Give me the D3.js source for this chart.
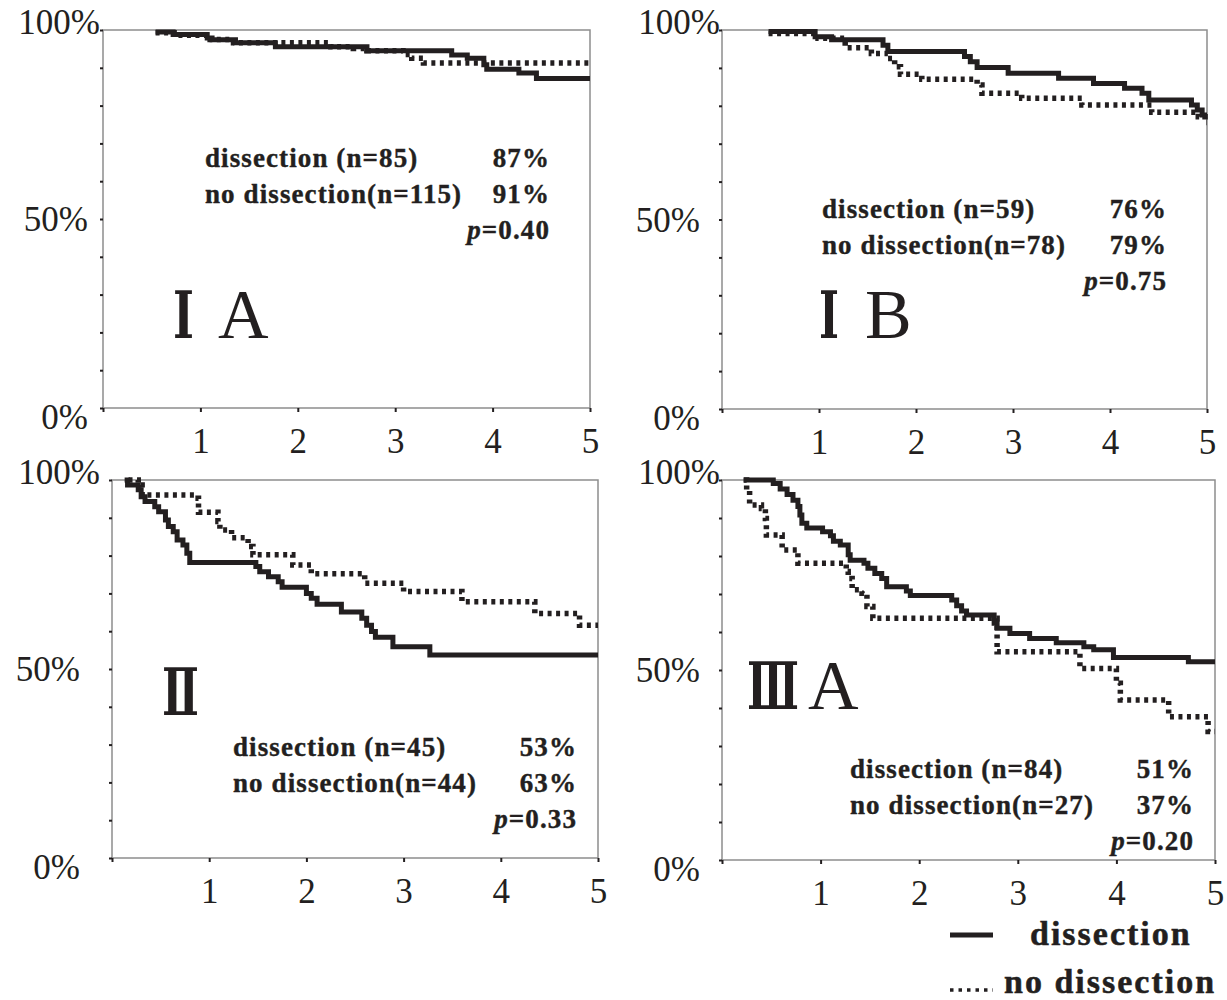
<!DOCTYPE html>
<html>
<head>
<meta charset="utf-8">
<script src="https://cdn.jsdelivr.net/npm/d3@7/dist/d3.min.js"></script>
<style>
  body { margin: 0; background: #fff; }
  text { fill: #231f20; }
</style>
</head>
<body>
<svg width="1227" height="1000"></svg>
<script>
// survival curves, [years, survival %], step after each point
var iaDissection = [[0.54,99.5],[0.72,98.8],[1.07,97.9],[1.12,97.4],[1.36,96.6],[1.77,95.6],[2.71,94.5],[3.58,93.4],[3.74,92.5],[3.91,90.8],[3.94,89.6],[4.27,88.6],[4.45,87.2],[5,87.2]];
var iaNoDissection = [[0.54,99.3],[0.73,98.6],[1.1,97.5],[1.34,96.6],[2.34,95.6],[2.57,95.1],[2.71,94.5],[3.08,93.5],[3.17,92.5],[3.29,91.3],[5,91.3]];

var ibDissection = [[0.48,99.6],[0.96,98.2],[1.13,97.4],[1.66,96],[1.71,94.3],[2.5,93],[2.56,91.6],[2.63,90.1],[2.95,88.6],[3.47,87.3],[3.83,85.9],[4.15,84.6],[4.33,83.3],[4.4,81.5],[4.84,80.2],[4.9,78.9],[4.95,77.6],[5,77.6]];
var ibNoDissection = [[0.48,99.1],[0.99,97.8],[1.27,95.3],[1.54,93.8],[1.71,92.5],[1.78,90.3],[1.84,88.3],[2.06,87],[2.63,85.5],[2.68,83.3],[3.09,82],[3.71,80.2],[4.43,78.3],[4.91,77.1],[4.98,75.6],[5,75.6]];

var iiDissection = [[0.13,100],[0.16,98.7],[0.27,97.4],[0.3,95.6],[0.34,94.3],[0.44,92.9],[0.48,91.6],[0.55,89.4],[0.58,87.7],[0.63,86.3],[0.67,84.1],[0.73,82.8],[0.77,80.6],[0.8,78.2],[1.48,77.1],[1.52,75.7],[1.61,74.4],[1.71,73.1],[1.75,71.6],[2.0,70],[2.05,68.7],[2.11,67.1],[2.36,65.1],[2.57,63.4],[2.62,61.6],[2.67,59.9],[2.71,58.4],[2.89,55.9],[3.27,53.7],[5,53.7]];
var iiNoDissection = [[0.17,100],[0.27,98.7],[0.31,96],[0.85,95.2],[0.89,91.5],[1.09,89],[1.11,86.8],[1.23,84.7],[1.4,82.4],[1.45,80.2],[1.86,77.5],[2.05,75.2],[2.6,72.7],[3.0,70.5],[3.6,67.8],[4.35,64.7],[4.81,61.6],[5,61.6]];

var iiiaDissection = [[0.22,100],[0.52,99.1],[0.59,97.6],[0.66,96.2],[0.72,94.7],[0.77,93],[0.79,90.8],[0.81,88.6],[0.86,87.4],[1.02,86.4],[1.1,85.3],[1.13,83.9],[1.2,82.9],[1.28,80.3],[1.3,78.9],[1.44,78.1],[1.48,76.8],[1.55,75.4],[1.62,74.1],[1.67,71.9],[1.87,70.8],[1.91,69.6],[2.33,68.4],[2.38,66.9],[2.43,65.5],[2.48,64.5],[2.76,62.3],[2.79,61],[2.92,59.6],[3.12,58.3],[3.39,57.2],[3.67,56.1],[3.77,55.3],[3.97,53.3],[4.73,52.2],[5,52.2]];
var iiiaNoDissection = [[0.22,100],[0.25,97.4],[0.28,93.4],[0.4,92.5],[0.44,89.9],[0.45,85.5],[0.61,81.6],[0.76,81],[0.77,78.1],[1.26,75.9],[1.28,74.1],[1.32,71.1],[1.42,70.2],[1.47,66.7],[1.53,63.6],[2.79,54.8],[3.63,50.4],[4.0,46.5],[4.04,42.1],[4.53,37.7],[4.93,33.8],[5,33.8]];

var xTicks = [0, 1, 2, 3, 4, 5];
var yTicks = [0, 10, 20, 30, 40, 50, 60, 70, 80, 90, 100];
var yLabels = [100, 50, 0];

var stageNumerals = ["\u2160", "\u2160", "\u2161", "\u2162"];
var stageLetters = ["A", "B", "", "A"];
var nDissection = [85, 59, 45, 84];
var nNoDissection = [115, 78, 44, 27];
var rateDissection = [87, 76, 53, 51];
var rateNoDissection = [91, 79, 63, 37];
var pValues = ["0.40", "0.75", "0.33", "0.20"];

var curves = [
  [iaDissection, iaNoDissection],
  [ibDissection, ibNoDissection],
  [iiDissection, iiNoDissection],
  [iiiaDissection, iiiaNoDissection]
];

// where each panel sits on the page
var panels = [
  {left: 103, right: 590, top: 30, bottom: 408, labelEnd: 88, hundredEnd: 100, textX: 205, textEnd: 550, textY: 167, stageX: 173, stageW: 21, letterX: 218, stageY: 338},
  {left: 722, right: 1207, top: 30, bottom: 409, labelEnd: 700, hundredEnd: 720, textX: 822, textEnd: 1167, textY: 218, stageX: 819, stageW: 20, letterX: 865, stageY: 338},
  {left: 112, right: 598, top: 480, bottom: 858, labelEnd: 80, hundredEnd: 100, textX: 233, textEnd: 577, textY: 756, stageX: 162, stageW: 37, letterX: 200, stageY: 715},
  {left: 722, right: 1215, top: 480, bottom: 860, labelEnd: 700, hundredEnd: 720, textX: 850, textEnd: 1194, textY: 778, stageX: 747, stageW: 52, letterX: 808, stageY: 709}
];

var serif = "'Liberation Serif', 'Times New Roman', serif";
var svg = d3.select("svg");

panels.forEach(function(p, i)
{
  var x = d3.scaleLinear().domain([0, 5]).range([p.left, p.right]);
  var y = d3.scaleLinear().domain([0, 100]).range([p.bottom, p.top]);

  var g = svg.append("g");

  g.append("rect")
    .attr("x", p.left).attr("y", p.top)
    .attr("width", p.right - p.left).attr("height", p.bottom - p.top)
    .attr("fill", "none").attr("stroke", "#8d8d8d").attr("stroke-width", 1.5);

  var xAxis = d3.axisBottom(x).tickValues(xTicks).tickSize(4).tickPadding(16)
    .tickFormat(function(d){ return d === 0 ? "" : d; });
  var ax = g.append("g").attr("transform", "translate(0," + p.bottom + ")").call(xAxis);
  ax.select(".domain").remove();
  ax.selectAll("line").attr("stroke", "#231f20").attr("stroke-width", 2);
  ax.selectAll("text").attr("font-family", serif).attr("font-size", 35).attr("fill", "#231f20");

  var yAxis = d3.axisLeft(y).tickValues(yTicks).tickSize(3).tickFormat("");
  var ay = g.append("g").attr("transform", "translate(" + p.left + ",0)").call(yAxis);
  ay.select(".domain").remove();
  ay.selectAll("line").attr("stroke", "#231f20").attr("stroke-width", 2);

  g.selectAll(".ylab")
    .data(yLabels)
    .enter()
    .append("text")
    .attr("class", "ylab")
    .attr("x", function(d){ return d === 100 ? p.hundredEnd : p.labelEnd; })
    .attr("y", function(d){
      if (d === 100) return y(d) + 4;
      if (d === 0) return y(d) + 21;
      return y(d) + 12;
    })
    .attr("text-anchor", "end")
    .attr("font-family", serif).attr("font-size", 35)
    .text(function(d){ return d + "%"; });

  var line = d3.line()
    .x(function(d){ return x(d[0]); })
    .y(function(d){ return y(d[1]); })
    .curve(d3.curveStepAfter);

  g.append("path")
    .datum(curves[i][1])
    .attr("d", line)
    .attr("fill", "none").attr("stroke", "#231f20")
    .attr("stroke-width", 5.5).attr("stroke-dasharray", "4,4.5");

  g.append("path")
    .datum(curves[i][0])
    .attr("d", line)
    .attr("fill", "none").attr("stroke", "#231f20")
    .attr("stroke-width", 5);

  var rows = [
    ["dissection (n=" + nDissection[i] + ")", rateDissection[i] + "%"],
    ["no dissection(n=" + nNoDissection[i] + ")", rateNoDissection[i] + "%"]
  ];
  rows.forEach(function(r, k)
  {
    g.append("text")
      .attr("x", p.textX).attr("y", p.textY + k * 36)
      .attr("font-family", serif).attr("font-size", 27).attr("font-weight", "bold")
      .attr("letter-spacing", 1.1)
      .attr("stroke", "#231f20").attr("stroke-width", 0.4)
      .text(r[0]);
    g.append("text")
      .attr("x", p.textEnd).attr("y", p.textY + k * 36)
      .attr("text-anchor", "end")
      .attr("font-family", serif).attr("font-size", 27).attr("font-weight", "bold")
      .attr("letter-spacing", 1.1)
      .attr("stroke", "#231f20").attr("stroke-width", 0.4)
      .text(r[1]);
  });
  var pt = g.append("text")
    .attr("x", p.textEnd).attr("y", p.textY + 72)
    .attr("text-anchor", "end")
    .attr("font-family", serif).attr("font-size", 27).attr("font-weight", "bold")
    .attr("letter-spacing", 1.1)
    .attr("stroke", "#231f20").attr("stroke-width", 0.4);
  pt.append("tspan").attr("font-style", "italic").text("p");
  pt.append("tspan").text("=" + pValues[i]);

  // stage label: roman numeral squeezed horizontally to the width seen in the figure
  var num = g.append("text")
    .attr("font-size", 66).attr("font-weight", "bold")
    .attr("font-family", "'DejaVu Serif', 'Noto Sans CJK JP', serif")
    .text(stageNumerals[i]);
  var nb = num.node().getBBox();
  var sx = p.stageW / nb.width;
  num.attr("transform", "translate(" + (p.stageX - nb.x * sx) + "," + p.stageY + ") scale(" + sx + ",1)");
  if (stageLetters[i])
    g.append("text")
      .attr("x", p.letterX).attr("y", p.stageY)
      .attr("font-size", 70).attr("font-family", serif)
      .text(stageLetters[i]);
});

// legend
var legendKeys = ["dissection", "no dissection"];
var lg = svg.append("g");
lg.selectAll("line")
  .data(legendKeys)
  .enter()
  .append("line")
  .attr("x1", 950).attr("x2", 993)
  .attr("y1", function(d, i){ return i === 0 ? 935 : 990; })
  .attr("y2", function(d, i){ return i === 0 ? 935 : 990; })
  .attr("stroke", "#231f20")
  .attr("stroke-width", function(d, i){ return i === 0 ? 5 : 3.5; })
  .attr("stroke-dasharray", function(d, i){ return i === 0 ? null : "3.5,5"; });
lg.selectAll("text")
  .data(legendKeys)
  .enter()
  .append("text")
  .attr("x", function(d, i){ return i === 0 ? 1030 : 1004; })
  .attr("y", function(d, i){ return i === 0 ? 945 : 993; })
  .attr("font-family", serif).attr("font-size", 34).attr("font-weight", "bold")
  .attr("letter-spacing", 2)
  .attr("stroke", "#231f20").attr("stroke-width", 0.5)
  .text(function(d){ return d; });
</script>
</body>
</html>
